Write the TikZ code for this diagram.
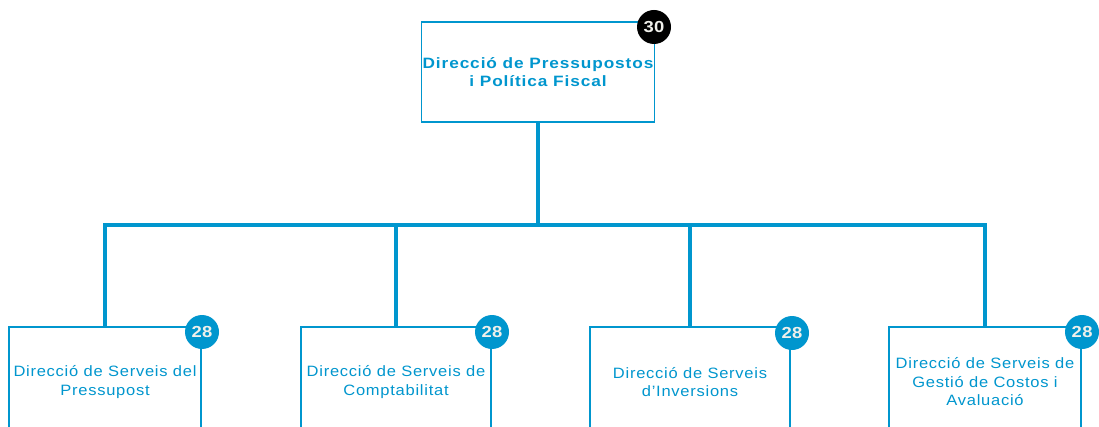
\documentclass[tikz,border=0pt]{standalone}
\usepackage{fontspec}
\setmainfont{Liberation Sans}
\newfontfamily\topfont[LetterSpace=6,FakeStretch=1.15]{Liberation Sans}
\newfontfamily\boxfont[LetterSpace=5,FakeStretch=1.1]{Liberation Sans}
\newfontfamily\badgefont[FakeStretch=1.15,LetterSpace=3]{Liberation Sans}
\definecolor{orgblue}{RGB}{0,150,206}
\definecolor{badgewhite}{RGB}{240,240,235}
\begin{document}
\begin{tikzpicture}[x=1pt,y=-1pt,
  topbox/.style={draw=orgblue, line width=1.5pt, minimum width=233pt, minimum height=100pt,
    inner sep=0pt, align=center, text=orgblue, font=\topfont\bfseries\fontsize{15}{18}\selectfont},
  unitbox/.style={draw=orgblue, line width=1.5pt, minimum height=110pt,
    inner sep=0pt, align=center, text=orgblue, font=\boxfont\fontsize{15}{18.5}\selectfont},
  badge/.style={circle, inner sep=0pt, minimum size=34pt, text=badgewhite,
    font=\badgefont\bfseries\fontsize{16}{16}\selectfont},
  conn/.style={draw=orgblue, line width=4.5pt, line join=miter}]
\useasboundingbox (0,0) rectangle (1099,427);
\clip (0,0) rectangle (1099,427);
\fill[white] (0,0) rectangle (1099,427);

\node[topbox] (top) at (538,72) {Direcció de Pressupostos\\i Política Fiscal};
\node[unitbox, minimum width=192pt] (b1) at (105,382) {Direcció de Serveis del\\Pressupost};
\node[unitbox, minimum width=190pt] (b2) at (396,382) {Direcció de Serveis de\\Comptabilitat};
\node[unitbox, minimum width=200pt] (b3) at (690,382) {Direcció de Serveis\\d’Inversions};
\node[unitbox, minimum width=192pt] (b4) at (985,382) {Direcció de Serveis de\\Gestió de Costos i\\Avaluació};

\coordinate (bus) at (538,225);
\draw[conn] (top.south) -- (bus);
\draw[conn] (b1.north) -- (b1.north |- bus) -- (b4.north |- bus) -- (b4.north);
\draw[conn] (b2.north) -- (b2.north |- bus);
\draw[conn] (b3.north) -- (b3.north |- bus);

\node[badge, fill=black] (k0) at (654,27) {30};
\node[badge, fill=orgblue] (k1) at (202,332) {28};
\node[badge, fill=orgblue] (k2) at (492,332) {28};
\node[badge, fill=orgblue] (k3) at (792,333) {28};
\node[badge, fill=orgblue] (k4) at (1082,332) {28};
\end{tikzpicture}
\end{document}
